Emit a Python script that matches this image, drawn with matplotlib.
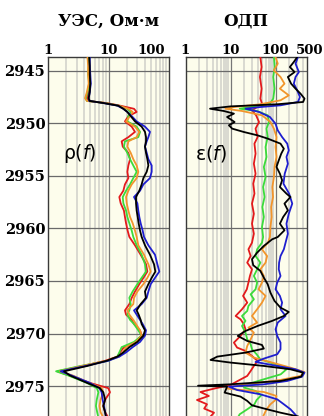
"""Каротаж: УЭС rho(f) и ОДП eps(f) по глубине, 5 частот."""
import matplotlib
matplotlib.use("Agg")
import matplotlib.pyplot as plt
from matplotlib.transforms import blended_transform_factory, offset_copy

plt.rcParams["mathtext.fontset"] = "dejavusans"

# --- данные: глубина, м ---
DEPTH_TICKS = [2945, 2950, 2955, 2960, 2965, 2970, 2975]
D_TOP, D_BOT = 2943.667, 2977.857

# УЭС, Ом*м (общая сетка глубин)
RHO_DEPTH = [2943.7, 2944.5, 2945.3, 2946.2, 2947.0, 2947.6, 2947.85, 2948.05, 2948.3, 2948.6,
             2948.9, 2949.3, 2949.8, 2950.3, 2950.8, 2951.3, 2951.7, 2952.2, 2952.8, 2953.4,
             2954.0, 2954.6, 2955.2, 2955.8, 2956.4, 2957.0, 2957.6, 2958.3, 2958.9, 2959.5,
             2960.2, 2960.8, 2961.6, 2962.5, 2963.4, 2964.1, 2964.7, 2965.3, 2966.0, 2966.6,
             2967.2, 2967.8, 2968.2, 2968.7, 2969.1, 2969.7, 2970.2, 2970.8, 2971.3, 2971.8,
             2972.2, 2972.6, 2973.1, 2973.6, 2974.0, 2974.7, 2975.2, 2975.6, 2976.3, 2976.9,
             2977.5, 2978.0]
RHO_RED = [4.6, 4.8, 4.7, 4.9, 4.7, 4.4, 4.5, 9.3, 15.5, 26.4,
           29.2, 21.3, 18.7, 24.2, 27.4, 21.3, 16.5, 17.2, 21.3, 22.7,
           21.3, 20.5, 21.3, 18.7, 17.6, 15.1, 15.9, 18.0, 18.7, 19.5,
           20.7, 22.1, 27.4, 34.0, 41.7, 43.9, 37.7, 32.3, 27.4, 24.2,
           22.1, 18.7, 19.5, 24.2, 26.4, 33.2, 35.3, 28.5, 18.0, 15.5,
           14.0, 8.8, 3.8, 1.43, 2.25, 4.9, 9.9, 10.6, 8.8, 8.2,
           8.8, 9.9]
RHO_ORANGE = [4.5, 4.6, 4.6, 4.7, 4.4, 4.1, 4.4, 8.8, 14.5, 21.3,
              25.1, 22.7, 19.5, 27.4, 32.3, 29.2, 21.3, 20.5, 23.3, 25.7,
              29.2, 31.1, 29.2, 24.2, 21.3, 19.5, 20.0, 21.3, 22.7, 25.1,
              27.4, 29.2, 31.1, 38.6, 45.6, 49.8, 43.9, 37.7, 30.0, 26.4,
              25.7, 20.5, 22.1, 25.7, 28.5, 33.2, 35.3, 28.5, 19.5, 17.2,
              15.1, 9.3, 3.6, 1.58, 2.56, 4.8, 7.7, 8.2, 7.4, 7.1,
              7.4, 8.2]
RHO_GREEN = [4.6, 4.7, 4.6, 4.8, 4.5, 4.2, 4.4, 8.8, 14.5, 20.5,
             23.3, 21.3, 20.5, 29.2, 33.2, 31.1, 18.7, 18.0, 20.5, 22.7,
             25.7, 29.2, 25.7, 22.7, 19.5, 17.2, 17.6, 19.5, 20.5, 22.1,
             24.2, 25.7, 29.2, 35.3, 40.1, 41.7, 35.3, 30.0, 25.1, 22.1,
             23.3, 22.1, 20.5, 22.7, 26.4, 31.1, 35.3, 26.4, 16.5, 15.1,
             14.0, 9.9, 3.4, 1.36, 2.17, 4.4, 6.4, 6.8, 6.4, 6.2,
             6.5, 6.8]
RHO_BLUE = [4.9, 4.9, 5.0, 5.1, 4.9, 4.7, 4.8, 8.2, 14.0, 17.6,
            20.5, 24.2, 29.2, 40.1, 48.5, 45.6, 42.8, 40.1, 42.8, 45.6,
            51.7, 51.7, 48.5, 37.7, 33.2, 26.4, 30.0, 31.1, 32.3, 34.0,
            36.7, 38.6, 45.6, 58.7, 64.2, 69.2, 58.7, 49.8, 45.6, 42.8,
            35.3, 26.4, 29.2, 33.2, 36.7, 41.7, 40.1, 33.2, 25.1, 19.5,
            15.1, 9.9, 4.1, 1.62, 2.46, 4.9, 7.1, 7.7, 8.0, 8.4,
            8.8, 9.1]
RHO_BLACK = [4.8, 4.9, 4.9, 5.0, 4.9, 4.7, 4.9, 8.2, 14.5, 17.6,
             20.5, 23.3, 27.4, 35.3, 40.1, 41.7, 41.7, 40.1, 41.7, 43.9,
             45.6, 42.8, 37.7, 35.3, 32.3, 28.5, 28.5, 29.2, 30.4, 31.5,
             33.2, 35.3, 40.1, 48.5, 56.5, 59.5, 51.7, 45.6, 40.1, 41.7,
             34.0, 29.2, 31.5, 34.0, 35.3, 40.1, 37.7, 30.0, 22.1, 17.6,
             14.0, 9.3, 4.4, 1.84, 2.31, 4.4, 7.2, 8.2, 8.8, 8.2,
             8.8, 9.1]

# ОДП (свои глубины для каждой кривой)
EPS_RED_D = [2943.67, 2944.62, 2945.57, 2946.68, 2947.63, 2948.11, 2948.43, 2948.75, 2949.22, 2949.86,
             2950.49, 2951.29, 2951.92, 2952.87, 2953.83, 2954.78, 2955.73, 2956.68, 2957.63, 2958.6,
             2959.54, 2960.5, 2961.35, 2961.98, 2962.62, 2963.25, 2963.89, 2964.52, 2965.15, 2965.79,
             2966.42, 2967.06, 2967.69, 2968.33, 2968.65, 2969.12, 2969.6, 2970.23, 2970.87, 2971.34,
             2971.66, 2972.14, 2972.62, 2973.09, 2973.57, 2974.04, 2974.52, 2974.9, 2975.25, 2975.57,
             2975.95, 2976.33, 2976.74, 2977.15, 2977.54, 2977.9]
EPS_RED = [46, 49, 45, 49, 46, 50, 39, 30, 37, 43,
           36, 40, 34, 36, 33, 36, 32, 34, 30, 33,
           30, 33, 30, 25, 28, 23.5, 30, 27, 25, 23,
           19, 23.5, 18, 13, 16.7, 19.8, 21.5, 16.7, 11.9, 14,
           21.5, 30, 40, 33, 28, 23.5, 14.5, 10, 4.3, 2.15,
           3.3, 1.8, 3.0, 2.6, 4.3, 3.6]

EPS_GREEN_D = [2943.67, 2944.62, 2945.57, 2946.68, 2947.63, 2948.11, 2948.43, 2948.59, 2948.81, 2949.22,
               2949.86, 2950.49, 2951.29, 2952.24, 2953.19, 2954.14, 2955.1, 2956.05, 2957.0, 2957.95,
               2958.9, 2959.86, 2960.81, 2961.35, 2961.98, 2962.62, 2963.25, 2963.89, 2964.52, 2965.15,
               2965.79, 2966.27, 2966.74, 2967.38, 2967.85, 2968.33, 2968.8, 2969.28, 2969.92, 2970.55,
               2971.03, 2971.5, 2971.98, 2972.46, 2972.93, 2973.41, 2973.89, 2974.36, 2974.84, 2975.15,
               2975.47, 2975.89, 2976.33, 2976.74, 2977.22, 2977.69, 2977.9]
EPS_GREEN = [92, 96, 89, 95, 89, 75, 28, 16, 39, 67,
             71, 63, 67, 60, 63, 55, 60, 53, 57, 51,
             55, 50, 53, 50, 39, 36, 46, 39, 33, 39,
             36, 28, 33, 25, 23.5, 18, 21.5, 18, 21.5, 23.5,
             28, 30, 38, 46, 100, 175, 130, 55, 23.5, 20,
             36, 48, 38, 34, 23.5, 16, 15]

EPS_ORANGE_D = [2943.67, 2944.3, 2944.94, 2945.57, 2946.21, 2946.68, 2947.32, 2947.79, 2948.17, 2948.43,
                2948.59, 2948.81, 2949.22, 2949.86, 2950.49, 2951.29, 2952.24, 2953.19, 2954.14, 2955.1,
                2956.05, 2957.0, 2957.95, 2958.9, 2959.86, 2960.81, 2961.35, 2961.98, 2962.62, 2963.25,
                2963.89, 2964.52, 2965.15, 2965.79, 2966.42, 2967.06, 2967.69, 2968.33, 2968.96, 2969.44,
                2969.92, 2970.55, 2971.19, 2971.82, 2972.3, 2972.77, 2973.25, 2973.67, 2974.04, 2974.42,
                2974.75, 2975.0, 2975.25, 2975.57, 2975.95, 2976.33, 2976.74, 2977.22, 2977.9]
EPS_ORANGE = [100, 112, 92, 129, 158, 125, 197, 129, 46, 12,
              7.7, 18, 50, 77, 92, 105, 100, 105, 95, 92,
              85, 88, 80, 82, 77, 75, 68, 50, 65, 60,
              46, 55, 50, 42, 60, 50, 39, 30, 39, 25,
              33, 28, 23.5, 21.5, 33, 84, 215, 440, 360, 129,
              33, 12, 8.4, 55, 105, 100, 77, 63, 53]

EPS_BLUE_D = [2943.67, 2944.3, 2945.1, 2945.57, 2946.21, 2946.84, 2947.48, 2947.95, 2948.27, 2948.43,
              2948.59, 2948.9, 2949.38, 2950.02, 2950.65, 2951.29, 2951.92, 2952.56, 2953.19, 2953.83,
              2954.78, 2955.73, 2956.68, 2957.63, 2958.59, 2959.54, 2960.5, 2961.35, 2961.98, 2962.62,
              2963.25, 2963.89, 2964.52, 2965.15, 2965.79, 2966.42, 2967.06, 2967.69, 2968.33, 2968.96,
              2969.6, 2970.23, 2970.87, 2971.5, 2971.98, 2972.39, 2972.71, 2973.09, 2973.41, 2973.73,
              2974.11, 2974.52, 2974.84, 2975.06, 2975.38, 2975.79, 2976.27, 2976.74, 2977.22, 2977.9]
EPS_BLUE = [315, 278, 330, 278, 255, 303, 348, 315, 129, 46,
            21.5, 43, 75, 100, 112, 140, 182, 197, 175, 188,
            160, 150, 200, 235, 197, 175, 188, 167, 153, 129,
            120, 118, 129, 109, 100, 125, 140, 129, 167, 112,
            100, 109, 129, 129, 109, 55, 36, 109, 278, 440,
            390, 182, 55, 9.2, 14, 46, 109, 153, 215, 300]

EPS_BLACK_D = [2943.67, 2944.14, 2944.62, 2945.1, 2945.57, 2946.21, 2946.68, 2947.16, 2947.63, 2947.95,
               2948.17, 2948.37, 2948.59, 2948.81, 2949.06, 2949.38, 2949.86, 2950.17, 2950.49, 2950.81,
               2951.13, 2951.44, 2951.92, 2952.4, 2952.87, 2953.51, 2954.14, 2954.78, 2955.41, 2956.05,
               2956.68, 2957.0, 2957.63, 2958.27, 2958.9, 2959.54, 2960.17, 2960.81, 2961.03, 2961.66,
               2962.3, 2962.93, 2963.5, 2964.04, 2964.68, 2965.31, 2966.11, 2966.9, 2967.54, 2967.95,
               2968.33, 2968.8, 2969.28, 2969.76, 2970.23, 2970.71, 2971.09, 2971.44, 2971.82, 2972.2,
               2972.52, 2972.77, 2973.09, 2973.41, 2973.73, 2974.11, 2974.52, 2974.84, 2974.97, 2975.06,
               2975.63, 2976.01, 2976.42, 2976.84, 2977.22, 2977.54, 2977.9]
EPS_BLACK = [303, 255, 208, 265, 188, 222, 278, 359, 440, 410,
             109, 10, 3.5, 7.1, 11.9, 8.4, 12.3, 9.2, 10.9, 19.8,
             40, 67, 129, 153, 134, 118, 105, 125, 140, 125,
             175, 215, 158, 188, 148, 125, 158, 112, 84, 55,
             39, 30, 32, 46, 55, 67, 77, 95, 129, 197,
             153, 84, 40, 21.5, 14.5, 23.5, 50, 55, 21.5, 5.1,
             3.6, 10, 55, 215, 410, 370, 129, 10, 1.9, 8.4,
             7.4, 16.7, 23.5, 30, 65, 129, 315]

RHO_TICKS, RHO_TICKLABELS = [1, 10, 100], ["1", "10", "100"]
EPS_TICKS, EPS_TICKLABELS = [1, 10, 100, 500], ["1", "10", "100", "500"]

C_RED, C_ORANGE, C_GREEN, C_BLUE, C_BLACK = "#E31A1C", "#F2952B", "#3BDB3B", "#1E1ECF", "#000000"
BG = "#FDFDEC"
SERIF = "DejaVu Serif"

W, H = 324, 416
fig = plt.figure(figsize=(W / 100, H / 100), dpi=100)
fig.patch.set_facecolor("white")

ax_r = fig.add_axes([48 / W, 0, 121 / W, 359 / H])
ax_e = fig.add_axes([185.5 / W, 0, 121.5 / W, 359 / H])


def setup(ax, xmax, ticks, labels):
    ax.set_facecolor(BG)
    ax.set_xscale("log"); ax.set_xlim(1, xmax); ax.set_ylim(D_BOT, D_TOP)
    minors = [m * 10 ** k for k in range(3) for m in range(2, 10) if m * 10 ** k < xmax]
    for v in minors:
        ax.axvline(v, color="#D3D3CC", lw=1.2, zorder=1)
    for v in [10, 100]:
        if v < xmax:
            ax.axvline(v, color="#777777", lw=0.9, zorder=1.5)
    for d in DEPTH_TICKS:
        ax.axhline(d, color="#6A6A6A", lw=0.9, zorder=1.5)
    ax.set_xticks([]); ax.minorticks_off()
    ax.tick_params(axis="y", length=0)
    for s in ["top", "left", "right"]:
        ax.spines[s].set_color("#3A3A3A"); ax.spines[s].set_linewidth(1.0)
    ax.spines["bottom"].set_visible(False)
    tr = blended_transform_factory(ax.transData, ax.transAxes)
    for v, lab in zip(ticks, labels):
        ha, dx = "center", 0
        if v == xmax:
            dx = 3
        if xmax == 100 and v == 100:
            ha, dx = "right", -4
        ax.text(v, 1, lab, transform=offset_copy(tr, fig=fig, x=dx, y=3, units="dots"),
                ha=ha, va="baseline", fontsize=9.5, fontweight="bold", family=SERIF)


setup(ax_r, 100, RHO_TICKS, RHO_TICKLABELS)
setup(ax_e, 500, EPS_TICKS, EPS_TICKLABELS)

ax_r.set_yticks(DEPTH_TICKS)
ax_r.set_yticklabels([str(d) for d in DEPTH_TICKS], fontsize=10.5, fontweight="bold", family=SERIF)
ax_r.tick_params(axis="y", pad=2)
ax_e.set_yticks([])

lw = 1.3
for vals, c in [(RHO_RED, C_RED), (RHO_GREEN, C_GREEN), (RHO_ORANGE, C_ORANGE),
                (RHO_BLUE, C_BLUE), (RHO_BLACK, C_BLACK)]:
    ax_r.plot(vals, RHO_DEPTH, color=c, lw=lw, zorder=3)

for d, vals, c in [(EPS_RED_D, EPS_RED, C_RED), (EPS_GREEN_D, EPS_GREEN, C_GREEN),
                   (EPS_ORANGE_D, EPS_ORANGE, C_ORANGE), (EPS_BLUE_D, EPS_BLUE, C_BLUE),
                   (EPS_BLACK_D, EPS_BLACK, C_BLACK)]:
    ax_e.plot(vals, d, color=c, lw=lw, zorder=3)

ax_r.text(0.262, 0.73, r"ρ($\mathit{f}$)", transform=ax_r.transAxes, ha="center", va="center",
          fontsize=13.5, zorder=4)
ax_e.text(0.21, 0.73, r"ε($\mathit{f}$)", transform=ax_e.transAxes, ha="center", va="center",
          fontsize=13.5, zorder=4)

# заголовки колонок
fig.text(108.5 / W, 1 - 26 / H, "УЭС, Ом·м", ha="center", va="baseline",
         fontsize=12, fontweight="bold", family=SERIF)
fig.text(246 / W, 1 - 26 / H, "ОДП", ha="center", va="baseline",
         fontsize=12, fontweight="bold", family=SERIF)

fig.savefig("out.png", dpi=100)
